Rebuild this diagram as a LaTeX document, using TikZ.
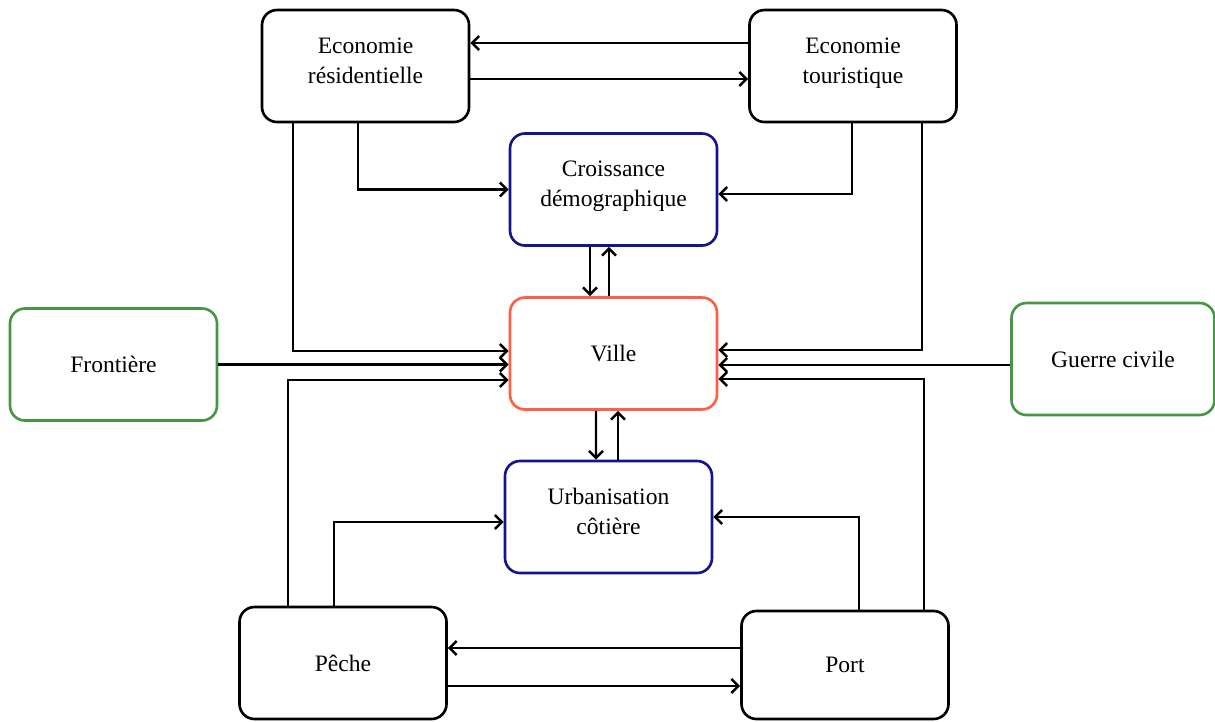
\documentclass[tikz,border=0pt]{standalone}
\usepackage{fontspec}
\setmainfont{Liberation Serif}
\usetikzlibrary{arrows.meta}
\definecolor{bleunuit}{RGB}{20,20,140}
\definecolor{rougeville}{RGB}{255,95,70}
\definecolor{vertext}{RGB}{70,150,70}
\tikzset{
    bloc/.style = {
        draw=black,
        line width=1.5pt,
        rounded corners=0.3cm,
        minimum width=4.14cm,
        minimum height=2.24cm,
        align=center,
        font=\fontsize{13.4}{17}\selectfont,
    },
    deuxlignes/.style = {
        text depth=0.22cm,
    },
    blocbleu/.style = {
        bloc,
        draw=bleunuit,
    },
    blocville/.style = {
        bloc,
        draw=rougeville,
    },
    blocvert/.style = {
        bloc,
        draw=vertext,
    },
    lien/.style = {
        line width=1.4pt,
        black,
        -{Straight Barb[length=4pt,width=8pt]},
    }
}

\begin{document}
\begin{tikzpicture}
  \useasboundingbox (0,0) rectangle (24.3,-14.42);
  % Boxes

  \node[bloc, deuxlignes] (res) at (7.31, -1.32) {Economie\\résidentielle};
  \node[bloc, deuxlignes] (tour) at (17.06, -1.32) {Economie\\touristique};
  \node[blocbleu, deuxlignes] (crois) at (12.27, -3.79) {Croissance\\démographique};
  \node[blocville] (ville) at (12.27, -7.07) {Ville};
  \node[blocvert] (front) at (2.27, -7.29) {Frontière};
  \node[blocvert, minimum width=4.06cm] (guerre) at (22.26, -7.18) {Guerre civile};
  \node[blocbleu, deuxlignes] (urba) at (12.17, -10.34) {Urbanisation\\côtière};
  \node[bloc] (peche) at (6.86, -13.26) {Pêche};
  \node[bloc, minimum height=2.16cm] (port) at (16.9, -13.3) {Port};

  % Top pair
  \draw[lien] ([yshift=0.46cm]tour.west) -- ([yshift=0.46cm]res.east);
  \draw[lien] ([yshift=-0.26cm]res.east) -- ([yshift=-0.26cm]tour.west);

  % Economies to Croissance and Ville
  \draw[lien] ([xshift=-0.15cm]res.south) |- (crois.west);
  \draw[lien] ([xshift=-0.02cm]tour.south) |- ([yshift=-0.09cm]crois.east);
  \draw[lien] ([xshift=-1.45cm]res.south) |- ([yshift=0.05cm]ville.west);
  \draw[lien] ([xshift=1.38cm]tour.south) |- ([yshift=0.07cm]ville.east);

  % Outside factors
  \draw[lien] (front.east) -- (front.east -| ville.west);
  \draw[lien] ([yshift=-0.12cm]guerre.west) -- ([yshift=-0.12cm]guerre.west -| ville.east);

  % Peche and Port to Ville
  \draw[lien] ([xshift=-1.1cm]peche.north) |- ([yshift=-0.53cm]ville.west);
  \draw[lien] ([xshift=1.58cm]port.north) |- ([yshift=-0.51cm]ville.east);

  % Croissance <-> Ville <-> Urbanisation
  \draw[lien] ([xshift=-0.47cm]crois.south) -- ([xshift=-0.47cm]ville.north);
  \draw[lien] ([xshift=-0.09cm]ville.north) -- ([xshift=-0.09cm]crois.south);
  \draw[lien] ([xshift=-0.35cm]ville.south) -- ([xshift=-0.25cm]urba.north);
  \draw[lien] ([xshift=0.19cm]urba.north) -- ([xshift=0.09cm]ville.south);

  % Peche and Port to Urbanisation
  \draw[lien] ([xshift=-0.18cm]peche.north) |- ([yshift=-0.1cm]urba.west);
  \draw[lien] ([xshift=0.28cm]port.north) |- ([yshift=0cm]urba.east);

  % Bottom pair
  \draw[lien] ([yshift=0.34cm]port.west) -- ([yshift=0.34cm]port.west -| peche.east);
  \draw[lien] ([yshift=-0.46cm]peche.east) -- ([yshift=-0.46cm]peche.east -| port.west);

\end{tikzpicture}
\end{document}
